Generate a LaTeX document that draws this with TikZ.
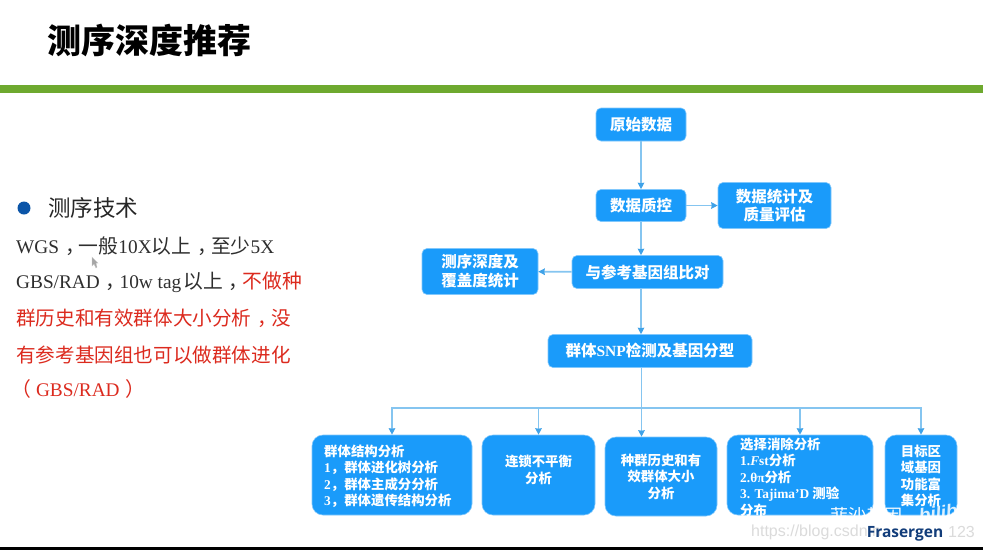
\documentclass[tikz,border=0pt]{standalone}
\usepackage{fontspec}
\usepackage{xcolor}
\setmainfont{Liberation Serif}
\setsansfont{Liberation Sans}
\newfontfamily\cjk{Noto Sans CJK SC}
\newfontfamily\logofont{Open Sans}
\usetikzlibrary{arrows.meta,positioning,calc}
\definecolor{boxblue}{HTML}{1A9BFA}
\definecolor{linkblue}{HTML}{85C5F0}
\definecolor{tipblue}{HTML}{3FA2E8}
\definecolor{barGreen}{HTML}{6EA92F}
\definecolor{noteRed}{HTML}{DC2A1E}
\definecolor{dotBlue}{HTML}{0B55A8}
\definecolor{logoBlue}{HTML}{123D7A}
\newcommand{\zh}[1]{{\fontsize{19.8}{22}\selectfont\cjk #1}}
\newcommand{\zc}{\kern.3em，\kern-.3em}
\tikzset{
  flowbox/.style={fill=boxblue,draw=boxblue!55!white,line width=0.6pt,rounded corners=5pt,text=white,
    font=\fontsize{15.5}{18.8}\selectfont\cjk\bfseries,align=center,inner sep=0pt},
  resultbox/.style={flowbox,rounded corners=11pt},
  boxtext/.style={align=left,inner sep=0pt,text=white,font=\fontsize{13.4}{16.5}\selectfont\cjk\bfseries},
  flow/.style={-{Stealth[length=6.5pt,width=6.5pt,inset=0.5pt,color=tipblue]},linkblue,line width=1.1pt},
  sideflow/.style={flow,line width=1.8pt},
  bodytext/.style={anchor=west,inner sep=0pt,text=black!82,font=\fontsize{19.3}{22}\selectfont}
}
\begin{document}
\begin{tikzpicture}[x=1pt,y=-1pt,>=Stealth]
  \useasboundingbox (0,0) rectangle (983,550);
  \fill[white] (0,0) rectangle (983,550);
  % header
  \node[anchor=west,inner sep=0pt,font=\fontsize{34}{40}\selectfont\cjk\bfseries] (title) at (47,40) {测序深度推荐};
  \fill[barGreen] (0,84.5) rectangle (983,93);
  \fill[black] (0,547) rectangle (983,550);
  % left column
  \fill[dotBlue] (24,208) circle (6.5);
  \node[anchor=west,inner sep=0pt,text=black!85,font=\fontsize{22.5}{26}\selectfont\cjk] (tech) at (48,208) {测序技术};
  \node[bodytext] (wgs) at (16,246) {WGS\zh{\zc 一般}10X\zh{以上\zc 至少}5X};
  \node[bodytext] (gbs) at (16,282) {GBS/RAD\zh{\zc}10w tag\kern2pt\zh{以上\zc\textcolor{noteRed}{不做种}}};
  \node[bodytext,text=noteRed,font=\fontsize{19.6}{22}\selectfont\cjk] (redA) at (16,318) {群历史和有效群体大小分析\zc 没};
  \node[bodytext,text=noteRed,font=\fontsize{19.6}{22}\selectfont\cjk] (redB) at (16,355) {有参考基因组也可以做群体进化};
  \node[bodytext,text=noteRed] (redC) at (16,389) {\zh{\kern-.25em（\kern.25em}GBS/RAD\zh{\kern.3em）}};
  \fill[gray!70,draw=gray!40,line width=0.3pt] (92,257) -- (92,266) -- (94,264) -- (96,268) -- (97,267) -- (96,263) -- (98,263) -- cycle;
  % flow chart
  \node[flowbox,minimum width=90pt,minimum height=33pt] (raw) at (641,124.5) {原始数据};
  \node[flowbox,minimum width=90pt,minimum height=32pt] (qc) at (641,205.5) {数据质控};
  \node[flowbox,minimum width=113pt,minimum height=46pt] (stat) at (774.5,205.5) {数据统计及\\质量评估};
  \node[flowbox,minimum width=151pt,minimum height=33pt] (map) at (647.5,272) {与参考基因组比对};
  \node[flowbox,minimum width=116pt,minimum height=46pt] (depth) at (480,271.5) {测序深度及\\覆盖度统计};
  \node[flowbox,minimum width=204pt,minimum height=33pt] (snp) at (650,351) {群体{\rmfamily SNP}检测及基因分型};
  % result boxes
  \node[resultbox,minimum width=160pt,minimum height=80pt] (struct) at (392,475) {};
  \node[resultbox,minimum width=113pt,minimum height=80pt] (ld) at (538.5,475) {};
  \node[resultbox,minimum width=112pt,minimum height=79pt] (hist) at (661,476.5) {};
  \node[resultbox,minimum width=146pt,minimum height=80pt] (sel) at (800,475) {};
  \node[resultbox,minimum width=72pt,minimum height=80pt] (gene) at (921,475) {};
  \node[boxtext,anchor=west] (structT) at (324,476.5) {群体结构分析\\{\rmfamily 1}，群体进化树分析\\{\rmfamily 2}，群体主成分分析\\{\rmfamily 3}，群体遗传结构分析};
  \node[boxtext,align=center] (ldT) at (ld |- 0,470) {连锁不平衡\\分析};
  \node[boxtext,align=center] (histT) at (hist |- 0,476.5) {种群历史和有\\效群体大小\\分析};
  \node[boxtext,anchor=north west] (selT) at (740,437.5) {选择消除分析\\{\rmfamily 1.\textit{F}st}分析\\{\rmfamily 2.θπ}分析\\{\rmfamily 3. Tajima'D} 测验\\分布};
  \node[boxtext,align=center] (geneT) at (gene |- 0,476) {目标区\\域基因\\功能富\\集分析};
  \coordinate (hub) at (641.5,408);
  % connectors
  \draw[flow] (raw) -- (qc);
  \draw[sideflow] (qc) -- (stat);
  \draw[flow] (qc) -- (qc |- map.north);
  \draw[sideflow] (map) -- (depth);
  \draw[flow] (map.south -| qc) -- (qc |- snp.north);
  \draw[linkblue,line width=1.1pt] (snp.south -| hub) -- (hub);
  \draw[flow] (hub) -| (struct.north);
  \draw[flow] (hub) -| (ld.north);
  \draw[flow] (hub) -- (hub |- hist.north);
  \draw[flow] (hub) -| (sel.north);
  \draw[flow] (hub) -| (gene.north);
  % marks along the lower edge
  \node[anchor=west,inner sep=0pt,text=black!14,font=\fontsize{16}{18}\selectfont\sffamily] (blog) at (751,532) {https://blog.csdn.n};
  \node[anchor=east,inner sep=0pt,text=black!14,font=\fontsize{16}{18}\selectfont\sffamily] (blogEnd) at (975,532) {123};
  \node[anchor=west,inner sep=0pt,text=white,font=\fontsize{18}{20}\selectfont\cjk] (wmark) at (830,516) {菲沙基因};
  \node[inner sep=0pt,text=white,opacity=0.85,rotate=8,font=\fontsize{19}{22}\selectfont\sffamily\bfseries\itshape] (bili) at (946,512) {bilibili};
  \node[inner sep=0pt,text=logoBlue,font=\fontsize{15.5}{18}\selectfont\logofont\bfseries] (logo) at (905,534) {Frasergen};
\end{tikzpicture}
\end{document}
